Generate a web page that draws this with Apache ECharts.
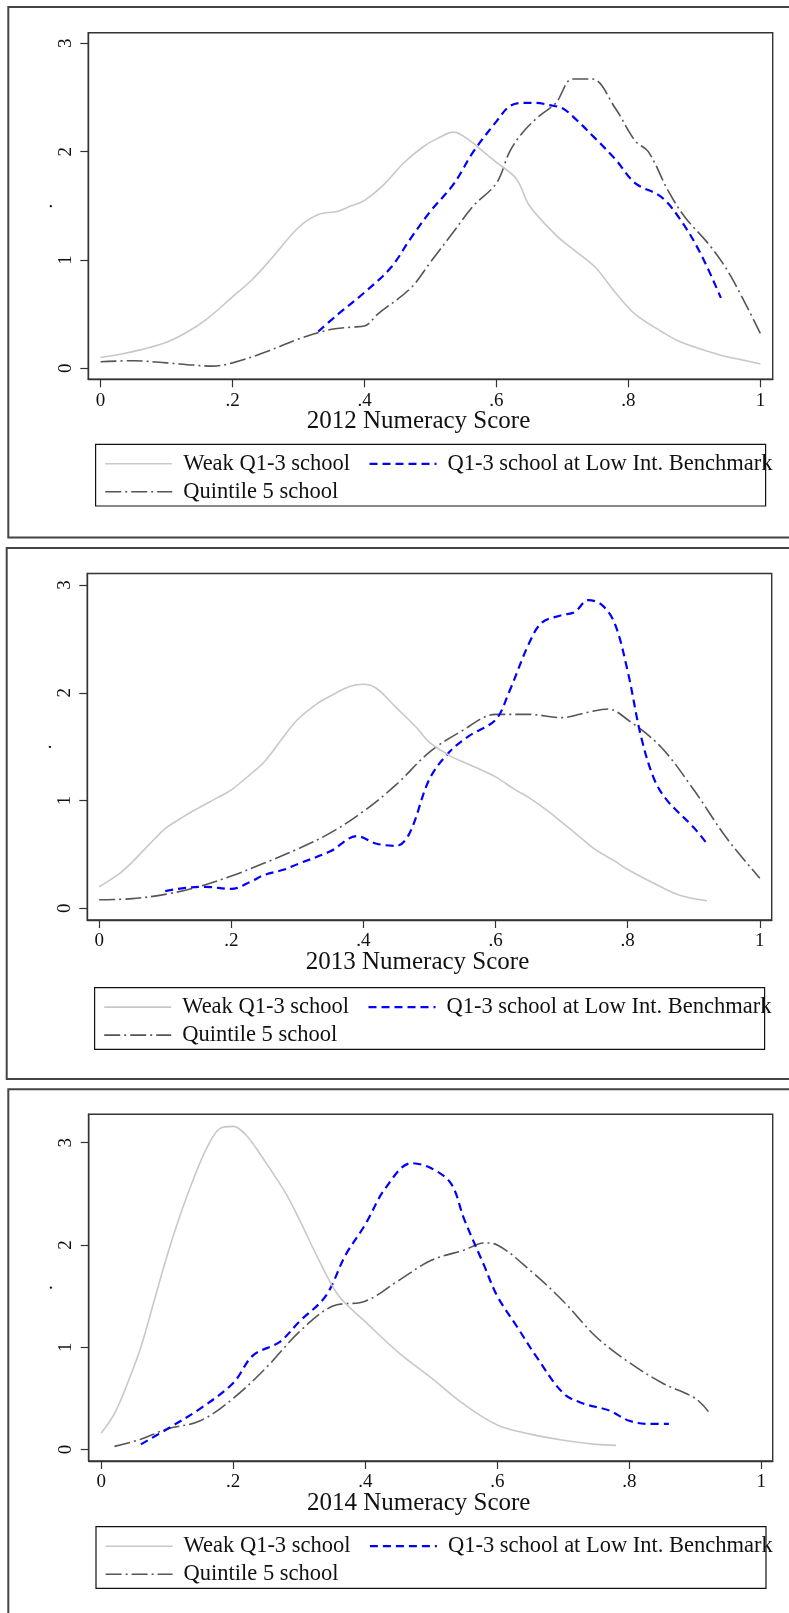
<!DOCTYPE html>
<html>
<head>
<meta charset="utf-8">
<script src="https://cdn.jsdelivr.net/npm/echarts@6/dist/echarts.min.js"></script>
<style>
  html, body { margin: 0; padding: 0; background: #fff; }
  #chart { width: 789px; height: 1613px; }
</style>
</head>
<body>
<div id="chart"></div>
<script>
// Kernel density of numeracy scores by school group, one panel per year.
const seriesNames = ['Weak Q1-3 school', 'Q1-3 school at Low Int. Benchmark', 'Quintile 5 school'];
const axisTitles = ['2012 Numeracy Score', '2013 Numeracy Score', '2014 Numeracy Score'];
const xTicks = [0, 0.2, 0.4, 0.6, 0.8, 1];
const xTickLabels = ['0', '.2', '.4', '.6', '.8', '1'];
const yTicks = [0, 1, 2, 3];
const yTickLabels = ['0', '1', '2', '3'];

// 2012
const weak2012 = [[0,0.1],[0.03,0.13],[0.06,0.17],[0.1,0.24],[0.13,0.33],[0.16,0.45],[0.2,0.66],[0.23,0.82],[0.26,1.02],[0.3,1.3],[0.33,1.42],[0.36,1.45],[0.38,1.5],[0.4,1.55],[0.43,1.7],[0.46,1.9],[0.49,2.05],[0.51,2.12],[0.535,2.18],[0.56,2.1],[0.58,2.0],[0.6,1.9],[0.63,1.75],[0.65,1.5],[0.69,1.23],[0.72,1.08],[0.75,0.93],[0.78,0.7],[0.81,0.5],[0.85,0.34],[0.88,0.24],[0.94,0.12],[0.97,0.08],[1.0,0.04]];
const bench2012 = [[0.33,0.34],[0.36,0.5],[0.4,0.7],[0.44,0.93],[0.47,1.2],[0.5,1.45],[0.535,1.7],[0.565,2.0],[0.6,2.28],[0.62,2.42],[0.64,2.45],[0.66,2.45],[0.68,2.43],[0.7,2.4],[0.72,2.3],[0.75,2.12],[0.78,1.93],[0.81,1.71],[0.85,1.58],[0.88,1.36],[0.91,1.05],[0.94,0.65]];
const q5_2012 = [[0,0.06],[0.05,0.07],[0.1,0.05],[0.14,0.03],[0.17,0.02],[0.2,0.05],[0.25,0.15],[0.3,0.27],[0.35,0.36],[0.38,0.38],[0.4,0.39],[0.42,0.5],[0.47,0.74],[0.5,0.98],[0.535,1.26],[0.565,1.5],[0.6,1.71],[0.62,2.0],[0.64,2.18],[0.665,2.33],[0.69,2.45],[0.715,2.67],[0.745,2.67],[0.78,2.4],[0.81,2.1],[0.83,2.0],[0.86,1.64],[0.885,1.4],[0.925,1.12],[0.955,0.85],[1.0,0.32]];

// 2013
const weak2013 = [[0,0.2],[0.03,0.32],[0.05,0.43],[0.08,0.62],[0.1,0.74],[0.13,0.86],[0.15,0.93],[0.18,1.03],[0.2,1.1],[0.23,1.25],[0.25,1.36],[0.28,1.6],[0.3,1.75],[0.33,1.9],[0.35,1.97],[0.38,2.06],[0.4,2.08],[0.42,2.04],[0.45,1.86],[0.48,1.68],[0.5,1.54],[0.53,1.42],[0.55,1.36],[0.58,1.28],[0.6,1.22],[0.63,1.1],[0.65,1.03],[0.68,0.9],[0.7,0.8],[0.73,0.65],[0.75,0.55],[0.78,0.44],[0.8,0.36],[0.85,0.2],[0.88,0.12],[0.92,0.07]];
const bench2013 = [[0.1,0.16],[0.13,0.19],[0.16,0.2],[0.2,0.18],[0.23,0.25],[0.25,0.31],[0.28,0.36],[0.3,0.41],[0.35,0.53],[0.39,0.67],[0.42,0.6],[0.45,0.58],[0.47,0.7],[0.5,1.2],[0.53,1.45],[0.56,1.6],[0.6,1.75],[0.62,2.0],[0.65,2.45],[0.67,2.65],[0.7,2.72],[0.72,2.75],[0.74,2.86],[0.76,2.82],[0.78,2.65],[0.8,2.2],[0.82,1.6],[0.84,1.2],[0.86,1.0],[0.9,0.75],[0.92,0.6]];
const q5_2013 = [[0,0.08],[0.05,0.09],[0.1,0.13],[0.15,0.2],[0.2,0.3],[0.25,0.42],[0.3,0.55],[0.35,0.7],[0.4,0.9],[0.45,1.15],[0.5,1.45],[0.55,1.65],[0.6,1.8],[0.65,1.8],[0.7,1.77],[0.74,1.82],[0.77,1.85],[0.8,1.75],[0.85,1.5],[0.9,1.1],[0.95,0.65],[1.0,0.28]];

// 2014
const weak2014 = [[0,0.16],[0.02,0.35],[0.04,0.65],[0.06,1.0],[0.08,1.45],[0.1,1.9],[0.12,2.3],[0.14,2.65],[0.16,2.95],[0.18,3.14],[0.2,3.16],[0.22,3.07],[0.25,2.8],[0.28,2.5],[0.3,2.25],[0.33,1.85],[0.36,1.5],[0.4,1.25],[0.45,0.95],[0.5,0.7],[0.55,0.44],[0.6,0.24],[0.65,0.15],[0.7,0.09],[0.75,0.05],[0.78,0.04]];
const bench2014 = [[0.06,0.05],[0.1,0.2],[0.15,0.4],[0.2,0.65],[0.23,0.92],[0.27,1.05],[0.3,1.25],[0.34,1.5],[0.37,1.9],[0.4,2.2],[0.43,2.55],[0.47,2.8],[0.5,2.75],[0.53,2.6],[0.55,2.25],[0.58,1.8],[0.6,1.5],[0.63,1.2],[0.66,0.9],[0.7,0.55],[0.73,0.45],[0.77,0.38],[0.8,0.28],[0.83,0.25],[0.86,0.25]];
const q5_2014 = [[0.02,0.03],[0.06,0.1],[0.1,0.2],[0.15,0.28],[0.2,0.5],[0.25,0.8],[0.3,1.15],[0.35,1.4],[0.4,1.45],[0.45,1.65],[0.5,1.85],[0.55,1.95],[0.58,2.02],[0.6,2.0],[0.65,1.75],[0.7,1.45],[0.75,1.1],[0.8,0.85],[0.85,0.65],[0.9,0.5],[0.92,0.37]];

const panelData = [
  [weak2012, bench2012, q5_2012],
  [weak2013, bench2013, q5_2013],
  [weak2014, bench2014, q5_2014]
];

// Layout of the three stacked panels (pixels)
const panels = [
  { grid: { left: 88.3, top: 32.7, width: 684.4, height: 346.6 }, xr: [-0.0185, 1.0185], yr: [-0.1015, 3.098],
    frame: { x: 8.3, y: 7, h: 530.5 }, box: { x: 95.6, y: 444.3 } },
  { grid: { left: 87.3, top: 573.5, width: 684.4, height: 346.5 }, xr: [-0.018, 1.018], yr: [-0.108, 3.107],
    frame: { x: 6.7, y: 548, h: 531 }, box: { x: 94.6, y: 987.6 } },
  { grid: { left: 88.7, top: 1114.3, width: 684, height: 346.7 }, xr: [-0.019, 1.0173], yr: [-0.113, 3.278],
    frame: { x: 8.3, y: 1089.3, h: 600 }, box: { x: 96, y: 1526.7 } }
];

const FONT = 'Liberation Serif';
const lineStyles = [
  { color: '#c8c8c8', width: 1.6, type: 'solid' },
  { color: '#0000ff', width: 2.2, type: [8, 5] },
  { color: '#555555', width: 1.6, type: [16, 4, 2, 4] }
];
// legend item offsets inside each legend box: [dx, row center dy]
const legendSlots = [[8.8, 19], [272.8, 19], [8.8, 47]];

const grids = [], xAxes = [], yAxes = [], series = [], legends = [], graphics = [];

panels.forEach((p, i) => {
  grids.push(Object.assign({ show: true, borderColor: '#333', borderWidth: 1.4, backgroundColor: '#fff' }, p.grid));
  xAxes.push({
    type: 'value', gridIndex: i, min: p.xr[0], max: p.xr[1],
    name: axisTitles[i], nameLocation: 'middle', nameGap: 29, nameMoveOverlap: false,
    nameTextStyle: { fontFamily: FONT, fontSize: 25, color: '#111', lineHeight: 26, padding: [0, 24, 0, 0] },
    axisLine: { show: true, onZero: false, lineStyle: { color: '#333', width: 1.4 } },
    axisTick: { show: true, length: 8, inside: false, customValues: xTicks, lineStyle: { color: '#333', width: 1.2 } },
    axisLabel: { customValues: xTicks, margin: 12, fontFamily: FONT, fontSize: 19, color: '#111',
      formatter: v => xTickLabels[xTicks.indexOf(v)] },
    splitLine: { show: false }
  });
  yAxes.push({
    type: 'value', gridIndex: i, min: p.yr[0], max: p.yr[1],
    name: '.', nameLocation: 'middle', nameGap: 32, nameRotate: 90, nameMoveOverlap: false,
    nameTextStyle: { fontFamily: FONT, fontSize: 19, color: '#111' },
    axisLine: { show: true, onZero: false, lineStyle: { color: '#333', width: 1.4 } },
    axisTick: { show: true, length: 8, inside: false, customValues: yTicks, lineStyle: { color: '#333', width: 1.2 } },
    axisLabel: { customValues: yTicks, rotate: 90, margin: 13, fontFamily: FONT, fontSize: 19, color: '#111',
      formatter: v => yTickLabels[yTicks.indexOf(v)] },
    splitLine: { show: false }
  });
  panelData[i].forEach((d, k) => {
    series.push({
      type: 'line', name: seriesNames[k], xAxisIndex: i, yAxisIndex: i,
      data: d, symbol: 'none', smooth: 0.35,
      lineStyle: lineStyles[k], itemStyle: { color: lineStyles[k].color }, z: 5 - k
    });
    legends.push({
      data: [seriesNames[k]], selectedMode: false,
      left: p.box.x + legendSlots[k][0], top: p.box.y + legendSlots[k][1] - 11,
      itemWidth: 67, itemHeight: 14, padding: 0,
      lineStyle: lineStyles[k],
      itemStyle: { opacity: 0 },
      textStyle: { fontFamily: FONT, fontSize: 22.5, color: '#111', lineHeight: 22, padding: [0, 0, 0, 6] }
    });
  });
  graphics.push({
    type: 'rect', silent: true, z: 0,
    shape: { x: p.frame.x, y: p.frame.y, width: 820, height: p.frame.h },
    style: { fill: 'none', stroke: '#444', lineWidth: 2 }
  });
  graphics.push({
    type: 'rect', silent: true, z: 0,
    shape: { x: p.box.x, y: p.box.y, width: 670, height: 61.7 },
    style: { fill: 'none', stroke: '#111', lineWidth: 1.2 }
  });
});

const chart = echarts.init(document.getElementById('chart'), null, { renderer: 'canvas' });
chart.setOption({
  backgroundColor: '#fff',
  animation: false,
  grid: grids,
  xAxis: xAxes,
  yAxis: yAxes,
  series: series,
  legend: legends,
  graphic: graphics
});
</script>
</body>
</html>
